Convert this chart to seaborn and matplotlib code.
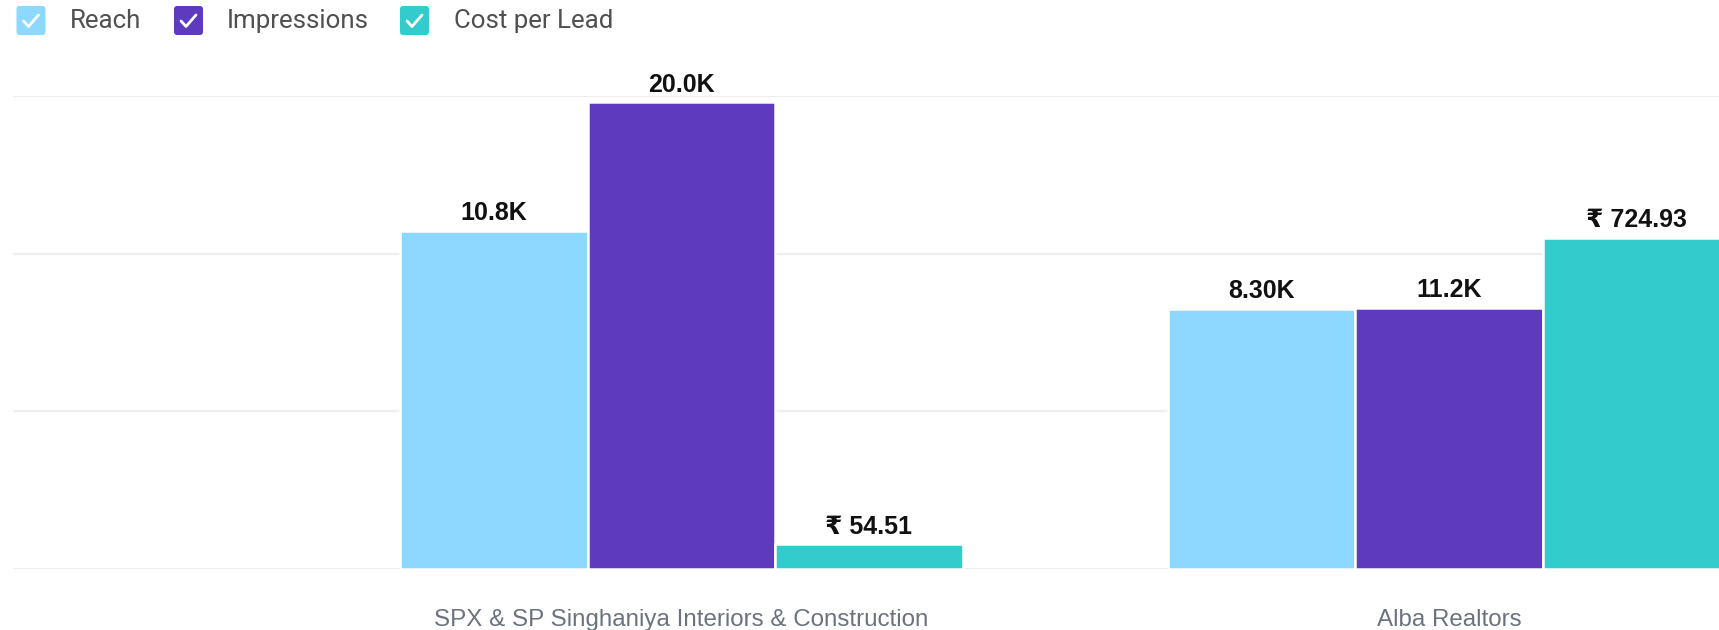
import matplotlib
matplotlib.use("Agg")
import matplotlib.pyplot as plt
import seaborn as sns
import pandas as pd
from matplotlib.patches import FancyBboxPatch
from matplotlib.lines import Line2D

# ---------------- data ----------------
categories = ["SPX & SP Singhaniya Interiors & Construction", "Alba Realtors"]
series_names = ["Reach", "Impressions", "Cost per Lead"]
reach = [10800, 8300]
impressions = [20000, 11200]
cost_per_lead = [54.51, 724.93]
reach_labels = ["10.8K", "8.30K"]
impr_labels = ["20.0K", "11.2K"]
cost_labels = ["\u20b9 54.51", "\u20b9 724.93"]
colors = ["#8DD8FF", "#5D3ABE", "#33CCCC"]
axis_max = [15100, 20270, 1036]

sns.set_theme(style="white")
plt.rcParams['font.family'] = ['Liberation Sans', 'DejaVu Sans']

W, H = 1719, 630
fig = plt.figure(figsize=(W / 100, H / 100), dpi=100)
left = 13 / W
bottom = (H - 569) / H
top = (H - 96) / H
ax = fig.add_axes([left, bottom, 1 - left, top - bottom])
axes = [ax, ax.twinx(), ax.twinx()]

values = [reach, impressions, cost_per_lead]
labels = [reach_labels, impr_labels, cost_labels]
palette = dict(zip(series_names, colors))

for a, name, vals, labs, ymax in zip(axes, series_names, values, labels, axis_max):
    df = pd.DataFrame({"category": categories, "value": vals, "series": [name] * len(vals)})
    sns.barplot(data=df, x="category", y="value", hue="series", hue_order=series_names,
                order=categories, palette=palette, width=0.733, dodge=True, ax=a,
                legend=False, edgecolor="white", linewidth=1.8, saturation=1,
                errorbar=None, zorder=3)
    a.set_ylim(0, ymax)
    for cont in a.containers:
        if len(cont) == len(labs):
            a.bar_label(cont, labels=labs, padding=4, fontsize=18, fontweight="bold",
                        color="#111111", family=['Liberation Sans', 'DejaVu Sans'])
    a.set_xlabel("")
    a.set_ylabel("")
    for s in a.spines.values():
        s.set_visible(False)
    a.tick_params(axis="y", left=False, right=False, labelleft=False, labelright=False)

for a in axes:
    a.set_xlim(-0.871, 1.352)

ax.set_yticks([0, axis_max[0] / 3, 2 * axis_max[0] / 3, axis_max[0]])
ax.yaxis.grid(True, color="#EEEEEE", linewidth=1.6)
ax.set_axisbelow(True)
ax.tick_params(axis="x", length=0, pad=29, labelsize=17.4, labelcolor="#6B7280")

# ---------------- legend (checkbox style) ----------------
leg = fig.add_axes([0, 0, 1, 1])
leg.set_xlim(0, W)
leg.set_ylim(H, 0)
leg.axis("off")
leg.patch.set_visible(False)
marker_x = [16.5, 174, 400]
text_x = [70, 227, 454]
size = 29
y0 = 6
for mx, tx, name, col in zip(marker_x, text_x, series_names, colors):
    leg.add_patch(FancyBboxPatch((mx + 3, y0 + 3), size - 6, size - 6,
                                 boxstyle="round,pad=3", fc=col, ec="none"))
    leg.add_line(Line2D([mx + 7, mx + 12, mx + 22], [y0 + 15, y0 + 20.5, y0 + 9],
                        color="white", linewidth=2.0, solid_capstyle="round",
                        solid_joinstyle="round"))
    leg.text(tx, y0 + size / 2 + 0.5, name, fontsize=18.6, color="#505050",
             family=["Roboto", "DejaVu Sans"], va="center", ha="left")

fig.savefig("out.png", dpi=100)
